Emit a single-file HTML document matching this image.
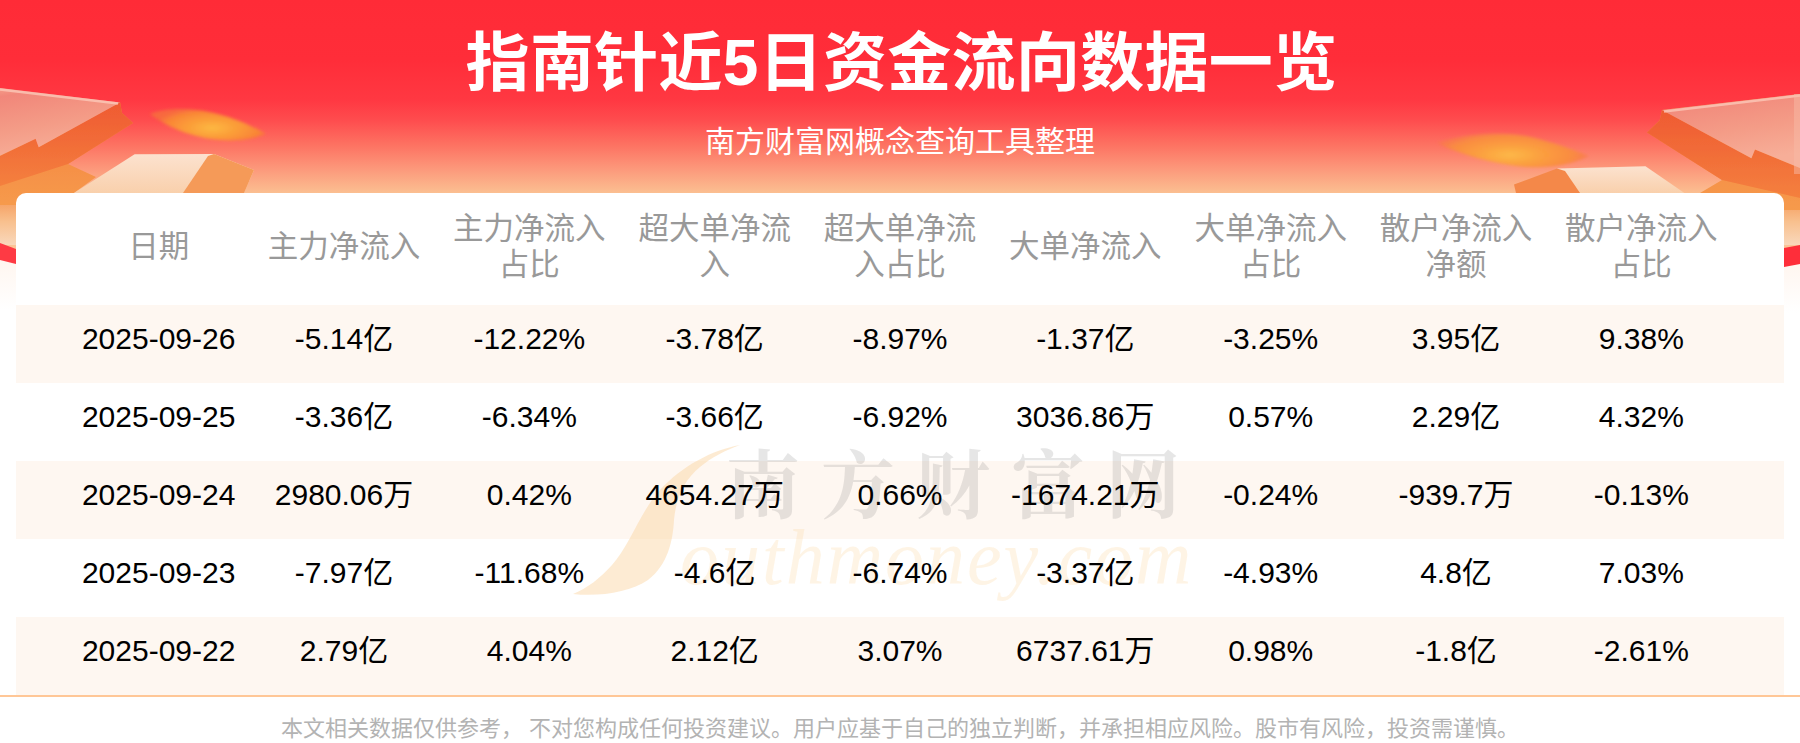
<!DOCTYPE html>
<html lang="zh-CN">
<head>
<meta charset="utf-8">
<title>指南针近5日资金流向数据一览</title>
<style>
*{margin:0;padding:0;box-sizing:border-box}
html,body{width:1800px;height:743px;overflow:hidden;background:#fff}
body{position:relative;font-family:"Liberation Sans","Noto Sans CJK SC",sans-serif}
.bg{position:absolute;left:0;top:0;width:1800px;height:300px;
 background:linear-gradient(180deg,#ff2b37 0px,#ff2d39 60px,#ff3842 100px,#fe4c4e 120px,#fd7262 145px,#fc9a7c 170px,#fbbf91 193px,#fbc497 200px)}
.deco{position:absolute;left:0;top:0;width:1800px;height:320px}
h1{position:absolute;left:0;top:0;width:1800px;text-align:center;color:#fff;font-weight:bold;
 font-size:64px;line-height:64px;top:30.5px;letter-spacing:0.3px;padding-left:3px;font-family:"Liberation Sans","Noto Sans CJK SC",sans-serif}
.sub{position:absolute;left:0;width:1800px;text-align:center;color:#fff;font-size:30px;line-height:30px;top:127px;
 font-family:"Liberation Sans","Noto Sans CJK SC",sans-serif}
.card{position:absolute;left:16px;top:193px;width:1768px;height:502px;background:#fff;border-radius:10px 10px 0 0;overflow:hidden}
.row{position:absolute;left:0;width:1768px;height:78px}
.row.s{background:#fef7f1}
.cell{position:absolute;top:0;width:185.33px;text-align:center}
.hd .cell{color:#999;font-size:30.5px;line-height:36px;font-family:"Liberation Sans","Noto Sans CJK SC",sans-serif}
.dr .cell{color:#000;font-size:30px;line-height:78px;top:-5.5px;font-family:"Liberation Sans","Noto Sans CJK SC",sans-serif}
.line{position:absolute;left:0;top:695px;width:1800px;height:2px;background:#ffc797}
.foot{position:absolute;left:0;top:716.5px;width:1800px;text-align:center;color:#b3b3b3;font-size:22px;line-height:24px;
 font-family:"Liberation Sans","Noto Sans CJK SC",sans-serif}
</style>
</head>
<body>
<div class="bg"></div>
<svg class="deco" width="1800" height="320" viewBox="0 0 1800 320">
 <defs>
  <filter id="b1" x="-10%" y="-10%" width="120%" height="120%"><feGaussianBlur stdDeviation="0.7"/></filter>
  <filter id="b2" x="-50%" y="-100%" width="200%" height="300%"><feGaussianBlur stdDeviation="5"/></filter>
  <filter id="b3" x="-50%" y="-100%" width="200%" height="300%"><feGaussianBlur stdDeviation="2.5"/></filter>
  <linearGradient id="gTop" x1="0" y1="0" x2="0.3" y2="1">
   <stop offset="0" stop-color="#f59d8a"/><stop offset="0.12" stop-color="#f1877a"/><stop offset="0.6" stop-color="#f49c87"/><stop offset="1" stop-color="#f7ae98"/>
  </linearGradient>
  <linearGradient id="gSide" x1="0" y1="0" x2="0" y2="1">
   <stop offset="0" stop-color="#ef5a32"/><stop offset="1" stop-color="#f4803e"/>
  </linearGradient>
  <linearGradient id="gLow" x1="0" y1="0" x2="0" y2="1">
   <stop offset="0" stop-color="#f47f3d"/><stop offset="1" stop-color="#f69a4c"/>
  </linearGradient>
  <linearGradient id="gPeach" x1="0" y1="0" x2="0" y2="1">
   <stop offset="0" stop-color="#fce2cf"/><stop offset="1" stop-color="#f9d0ac"/>
  </linearGradient>
  <radialGradient id="gFly" cx="0.55" cy="0.5" r="0.5">
   <stop offset="0" stop-color="#fdbb3e"/><stop offset="0.5" stop-color="#f9952f"/><stop offset="1" stop-color="#f77a3a" stop-opacity="0"/>
  </radialGradient>
  <linearGradient id="gMarg" x1="0" y1="0" x2="0" y2="1">
   <stop offset="0" stop-color="#f5914e"/><stop offset="0.55" stop-color="#f8c08e"/><stop offset="1" stop-color="#f9d8bc"/>
  </linearGradient>
  <linearGradient id="gUnder" x1="0" y1="0" x2="0" y2="1">
   <stop offset="0" stop-color="#fff5ee"/><stop offset="1" stop-color="#ffffff"/>
  </linearGradient>
  <filter id="b4" x="-20%" y="-60%" width="140%" height="220%"><feGaussianBlur stdDeviation="1.8"/></filter>
  <radialGradient id="gLeaf1" gradientUnits="userSpaceOnUse" cx="212" cy="128" r="60" gradientTransform="translate(212 128) scale(1 0.35) translate(-212 -128)">
   <stop offset="0" stop-color="#fdb842"/><stop offset="0.45" stop-color="#fb9b37"/><stop offset="0.8" stop-color="#f98436"/><stop offset="1" stop-color="#f76e3c" stop-opacity="0.85"/>
  </radialGradient>
  <radialGradient id="gLeaf2" gradientUnits="userSpaceOnUse" cx="1510" cy="155" r="80" gradientTransform="translate(1510 155) scale(1 0.3) translate(-1510 -155)">
   <stop offset="0" stop-color="#fdb847"/><stop offset="0.45" stop-color="#fb9c3e"/><stop offset="0.8" stop-color="#f98a42"/><stop offset="1" stop-color="#f8784a" stop-opacity="0.7"/>
  </radialGradient>
 </defs>
 <!-- margins below header -->
 <rect x="0" y="193" width="16" height="52" fill="url(#gMarg)"/>
 <rect x="1784" y="193" width="16" height="52" fill="url(#gMarg)"/>
 <rect x="0" y="255" width="16" height="55" fill="url(#gUnder)"/>
 <rect x="1784" y="258" width="16" height="55" fill="url(#gUnder)"/>
 <polygon points="0,243 16,249 16,264 0,260" fill="#fe3a44"/>
 <polygon points="1784,248 1800,245 1800,264 1784,267" fill="#fe2e3a"/>
 <g filter="url(#b1)">
  <!-- LEFT -->
  <polygon points="0,155 35,139 38,147 120,102 122,113 133,123 68,164 96,177 74,193 55,205 0,205" fill="url(#gLow)"/>
  <polygon points="120,102 122,113 133,123 68,164 0,186 0,156 35.6,138.8 38.7,147.3" fill="url(#gSide)"/>
  <polygon points="0,88 120,102.4 38.7,147.3 35.6,138.8 0,155.8" fill="url(#gTop)"/>
  <polyline points="0,89.5 118,103.5" stroke="#fbc8b8" stroke-width="2.5" fill="none" stroke-opacity="0.8"/>
  <polygon points="134.6,154.3 214,154 254,170 244,193 74,193" fill="url(#gPeach)"/>
  <polygon points="208,156 214,154 254,170 244,193 183,193" fill="#f59a58"/>
  <!-- RIGHT -->
  <polygon points="1662,110 1800,94 1800,210 1702,210 1700,193 1722,180 1647,132.4 1659.6,120.5" fill="url(#gLow)"/>
  <polygon points="1662,110 1659.6,120.5 1647,132.4 1722,180 1800,198 1800,168 1755,149.4 1751.4,158.3" fill="url(#gSide)"/>
  <polygon points="1662,110 1800,93.9 1800,168 1755,149.4 1751.4,158.3" fill="url(#gTop)"/>
  <polyline points="1664,111.5 1800,95.5" stroke="#fbc8b8" stroke-width="2.5" fill="none" stroke-opacity="0.8"/>
  <rect x="1794" y="94" width="6" height="80" fill="#f8b9a5" fill-opacity="0.5"/>
  <polygon points="1557,168.5 1645.5,166.2 1684.4,193 1580,193" fill="url(#gPeach)"/>
  <polygon points="1514,184.5 1557,168.5 1565,171 1580,193 1516,193" fill="#f4884a"/>
 </g>
 <path d="M150,114 C168,106 215,104 266,134 C240,145 190,144 150,114 Z" fill="url(#gLeaf1)" filter="url(#b4)"/>
 <path d="M1437,143 C1460,134 1500,130 1531,137 C1555,143 1575,150 1589,156 C1570,166 1540,170 1509,165 C1480,160 1455,152 1437,143 Z" fill="url(#gLeaf2)" filter="url(#b4)"/>
</svg>
<h1>指南针近5日资金流向数据一览</h1>
<div class="sub">南方财富网概念查询工具整理</div>
<div class="card">
 <div class="row s" style="top:112px"></div>
 <div class="row s" style="top:268px"></div>
 <div class="row s" style="top:424px"></div>
 <svg class="wm" width="1768" height="502" viewBox="16 193 1768 502" style="position:absolute;left:0;top:0">
  <path d="M740,445 C712,450 682,466 660,490 C640,512 630,545 612,565 C600,578 588,588 573,594 C600,597 630,592 648,580 C668,565 673,540 674,520 C676,498 684,480 700,467 C712,457 726,450 740,445 Z" fill="#fbd39d" fill-opacity="0.45"/>
  <text x="726" y="512" font-family="Liberation Serif, Noto Serif CJK SC, serif" font-weight="bold" font-size="74" fill="#777" fill-opacity="0.18" letter-spacing="21">南方财富网</text>
  <text x="680" y="584" font-family="Liberation Serif, serif" font-style="italic" font-size="78" fill="#fbd9a8" fill-opacity="0.3" letter-spacing="2">outhmoney.com</text>
 </svg>
 <div class="row hd" style="top:0;height:112px">
  <div class="cell" style="left:50px;top:35px">日期</div>
  <div class="cell" style="left:235.33px;top:35px">主力净流入</div>
  <div class="cell" style="left:420.67px;top:16.5px">主力净流入<br>占比</div>
  <div class="cell" style="left:606px;top:16.5px">超大单净流<br>入</div>
  <div class="cell" style="left:791.33px;top:16.5px">超大单净流<br>入占比</div>
  <div class="cell" style="left:976.67px;top:35px">大单净流入</div>
  <div class="cell" style="left:1162px;top:16.5px">大单净流入<br>占比</div>
  <div class="cell" style="left:1347.33px;top:16.5px">散户净流入<br>净额</div>
  <div class="cell" style="left:1532.67px;top:16.5px">散户净流入<br>占比</div>
 </div>
 <div class="row dr" style="top:112px">
  <div class="cell" style="left:50px">2025-09-26</div>
  <div class="cell" style="left:235.33px">-5.14亿</div>
  <div class="cell" style="left:420.67px">-12.22%</div>
  <div class="cell" style="left:606px">-3.78亿</div>
  <div class="cell" style="left:791.33px">-8.97%</div>
  <div class="cell" style="left:976.67px">-1.37亿</div>
  <div class="cell" style="left:1162px">-3.25%</div>
  <div class="cell" style="left:1347.33px">3.95亿</div>
  <div class="cell" style="left:1532.67px">9.38%</div>
 </div>
 <div class="row dr" style="top:190px">
  <div class="cell" style="left:50px">2025-09-25</div>
  <div class="cell" style="left:235.33px">-3.36亿</div>
  <div class="cell" style="left:420.67px">-6.34%</div>
  <div class="cell" style="left:606px">-3.66亿</div>
  <div class="cell" style="left:791.33px">-6.92%</div>
  <div class="cell" style="left:976.67px">3036.86万</div>
  <div class="cell" style="left:1162px">0.57%</div>
  <div class="cell" style="left:1347.33px">2.29亿</div>
  <div class="cell" style="left:1532.67px">4.32%</div>
 </div>
 <div class="row dr" style="top:268px">
  <div class="cell" style="left:50px">2025-09-24</div>
  <div class="cell" style="left:235.33px">2980.06万</div>
  <div class="cell" style="left:420.67px">0.42%</div>
  <div class="cell" style="left:606px">4654.27万</div>
  <div class="cell" style="left:791.33px">0.66%</div>
  <div class="cell" style="left:976.67px">-1674.21万</div>
  <div class="cell" style="left:1162px">-0.24%</div>
  <div class="cell" style="left:1347.33px">-939.7万</div>
  <div class="cell" style="left:1532.67px">-0.13%</div>
 </div>
 <div class="row dr" style="top:346px">
  <div class="cell" style="left:50px">2025-09-23</div>
  <div class="cell" style="left:235.33px">-7.97亿</div>
  <div class="cell" style="left:420.67px">-11.68%</div>
  <div class="cell" style="left:606px">-4.6亿</div>
  <div class="cell" style="left:791.33px">-6.74%</div>
  <div class="cell" style="left:976.67px">-3.37亿</div>
  <div class="cell" style="left:1162px">-4.93%</div>
  <div class="cell" style="left:1347.33px">4.8亿</div>
  <div class="cell" style="left:1532.67px">7.03%</div>
 </div>
 <div class="row dr" style="top:424px">
  <div class="cell" style="left:50px">2025-09-22</div>
  <div class="cell" style="left:235.33px">2.79亿</div>
  <div class="cell" style="left:420.67px">4.04%</div>
  <div class="cell" style="left:606px">2.12亿</div>
  <div class="cell" style="left:791.33px">3.07%</div>
  <div class="cell" style="left:976.67px">6737.61万</div>
  <div class="cell" style="left:1162px">0.98%</div>
  <div class="cell" style="left:1347.33px">-1.8亿</div>
  <div class="cell" style="left:1532.67px">-2.61%</div>
 </div>
</div>
<div class="line"></div>
<div class="foot">本文相关数据仅供参考， 不对您构成任何投资建议。用户应基于自己的独立判断，并承担相应风险。股市有风险，投资需谨慎。</div>
</body>
</html>
